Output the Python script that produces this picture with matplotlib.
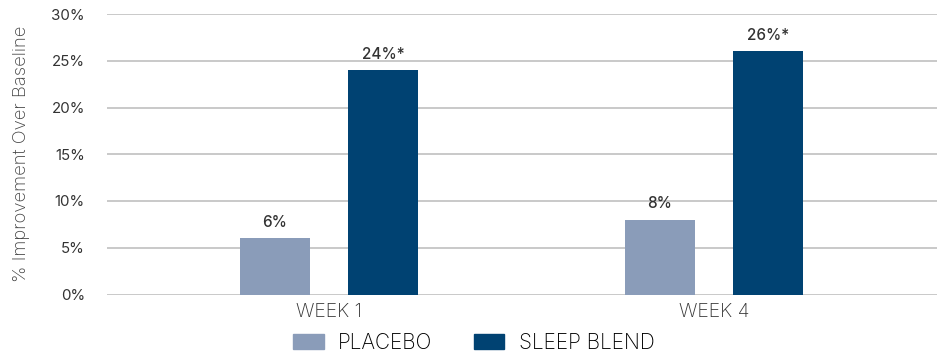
import matplotlib
matplotlib.use("Agg")
import matplotlib.pyplot as plt
from matplotlib.patches import Patch
import numpy as np

categories = ["WEEK 1", "WEEK 4"]
series_names = ["PLACEBO", "SLEEP BLEND"]
placebo = [6, 8]
sleep_blend = [24, 26]
placebo_labels = ["6%", "8%"]
sleep_labels = ["24%*", "26%*"]
yticks = [0, 5, 10, 15, 20, 25, 30]
ytick_labels = ["0%", "5%", "10%", "15%", "20%", "25%", "30%"]
colors = ["#8a9cb9", "#004272"]

plt.rcParams['font.family'] = ['Inter', 'DejaVu Sans']

fig = plt.figure(figsize=(9.38, 3.55), dpi=100)
ax = fig.add_axes([107/938, 1 - 294.5/355, 830/938, (294.5 - 14)/355])

x = np.arange(len(categories))
w = 0.182
off = 0.141
b1 = ax.bar(x - off, placebo, width=w, color=colors[0], zorder=3)
b2 = ax.bar(x + off, sleep_blend, width=w, color=colors[1], zorder=3)

for rect, lab in zip(b1, placebo_labels):
    ax.text(rect.get_x() + rect.get_width()/2, rect.get_height() + 0.9, lab,
            ha='center', va='bottom', fontsize=11, fontweight='medium', color='#333333')
for rect, lab in zip(b2, sleep_labels):
    ax.text(rect.get_x() + rect.get_width()/2, rect.get_height() + 0.9, lab,
            ha='center', va='bottom', fontsize=11, fontweight='medium', color='#333333')

ax.set_xlim(-0.577, 1.579)
ax.set_ylim(0, 30)
ax.set_yticks(yticks)
ax.set_yticklabels(ytick_labels, fontsize=10.8, color='#333333')
ax.set_xticks(x)
ax.set_xticklabels(categories, fontsize=14, fontweight='light', color='#333333')
ax.tick_params(axis='both', length=0)
ax.tick_params(axis='y', pad=16)
ax.tick_params(axis='x', pad=6)
ax.grid(axis='y', color='#c0c0c0', linewidth=1.2, zorder=0)
for s in ax.spines.values():
    s.set_visible(False)
ax.set_ylabel("% Improvement Over Baseline", fontsize=13.3, fontweight='light',
              color='#444444', labelpad=15)

handles = [Patch(color=colors[0]), Patch(color=colors[1])]
fig.legend(handles, series_names, loc='center', bbox_to_anchor=(474/938, 1 - 343/355),
           ncol=2, frameon=False, prop={'weight': 'light', 'size': 15},
           handlelength=1.45, handleheight=0.7, columnspacing=2.0, handletextpad=0.7,
           borderpad=0.2)

fig.savefig("out.png", dpi=100)
